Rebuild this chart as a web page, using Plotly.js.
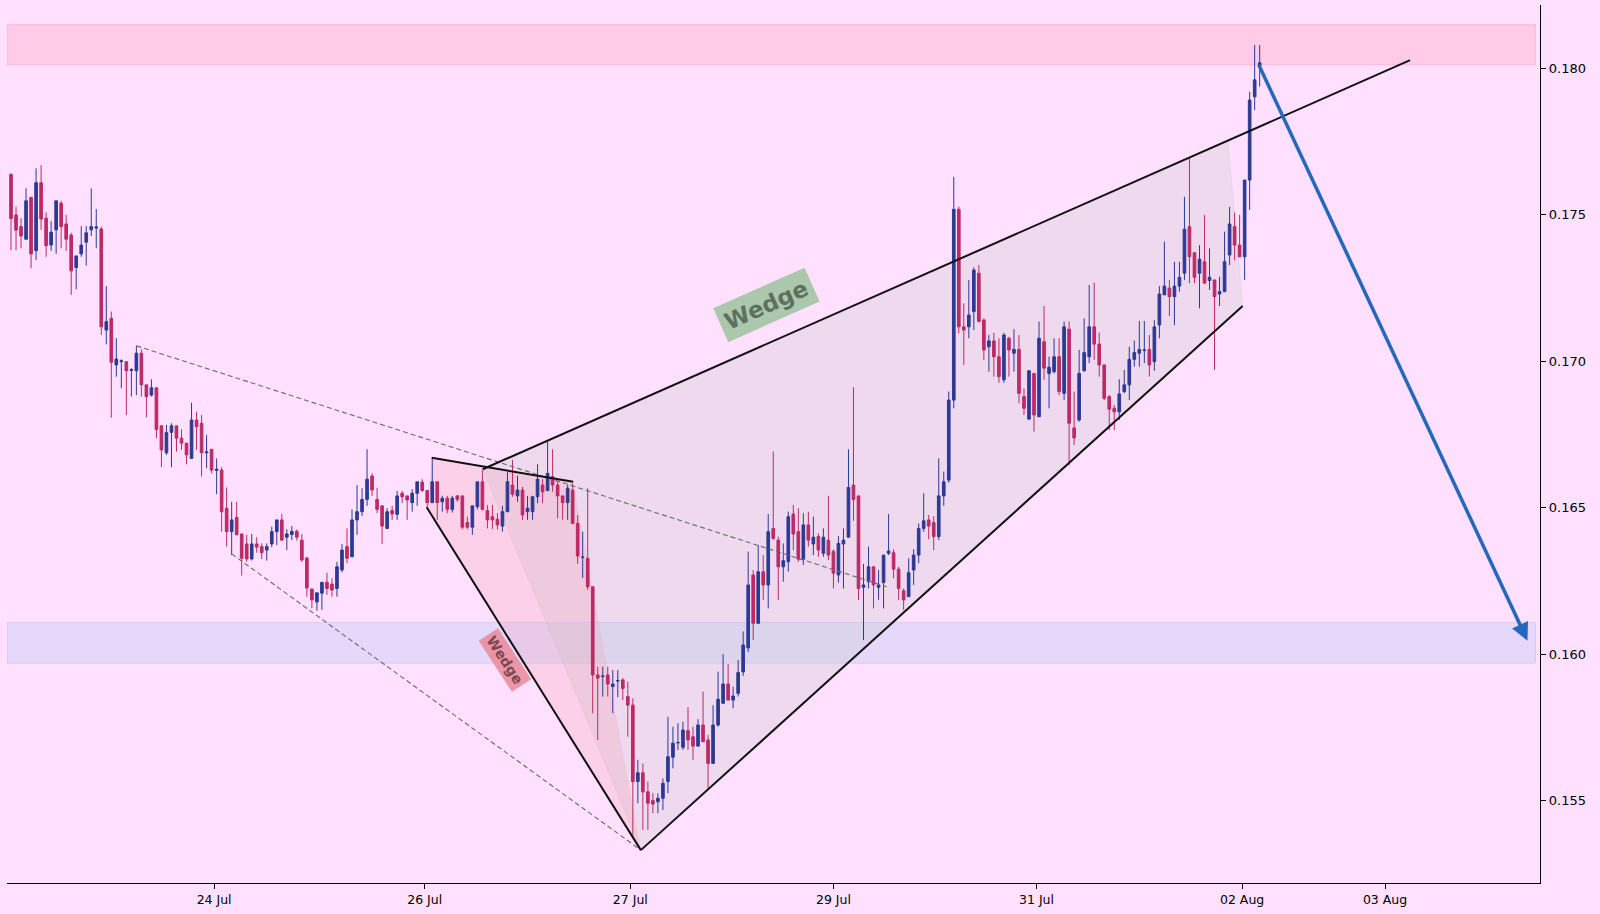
<!DOCTYPE html>
<html><head><meta charset="utf-8">
<script src="https://cdn.plot.ly/plotly-3.0.1.min.js"></script>
<style>html,body{margin:0;padding:0;background:#FFE0FE;}#chart{width:1600px;height:914px;}</style>
</head><body><div id="chart"></div>
<script>
const openP = [
0.17639,0.17500,0.17460,0.17417,0.17560,0.17378,0.17610,0.17489,0.17397,0.17449,
0.17540,0.17469,0.17431,0.17320,0.17367,0.17407,0.17449,0.17455,0.17452,0.17107,
0.17147,0.16988,0.16999,0.16999,0.16969,0.16968,0.17028,0.16920,0.16885,0.16910,
0.16780,0.16688,0.16758,0.16780,0.16738,0.16721,0.16669,0.16800,0.16789,0.16688,
0.16700,0.16628,0.16629,0.16499,0.16419,0.16468,0.16411,0.16377,0.16326,0.16377,
0.16368,0.16356,0.16377,0.16419,0.16459,0.16400,0.16409,0.16420,0.16390,0.16329,
0.16223,0.16179,0.16209,0.16246,0.16240,0.16225,0.16288,0.16368,0.16333,0.16459,
0.16487,0.16529,0.16609,0.16529,0.16507,0.16430,0.16491,0.16478,0.16550,0.16541,
0.16518,0.16550,0.16588,0.16559,0.16518,0.16589,0.16521,0.16533,0.16495,0.16541,
0.16541,0.16450,0.16434,0.16504,0.16589,0.16491,0.16470,0.16461,0.16438,0.16487,
0.16578,0.16541,0.16561,0.16487,0.16487,0.16538,0.16578,0.16559,0.16607,0.16578,
0.16541,0.16518,0.16561,0.16447,0.16331,0.16328,0.16231,0.15930,0.15925,0.15930,
0.15890,0.15909,0.15913,0.15856,0.15827,0.15566,0.15596,0.15531,0.15501,0.15497,
0.15509,0.15566,0.15649,0.15698,0.15683,0.15740,0.15719,0.15687,0.15759,0.15708,
0.15628,0.15759,0.15833,0.15899,0.15844,0.15867,0.15940,0.16022,0.16271,0.16106,
0.16282,0.16237,0.16430,0.16390,0.16299,0.16316,0.16479,0.16419,0.16325,0.16442,
0.16377,0.16402,0.16345,0.16390,0.16351,0.16271,0.16377,0.16400,0.16578,0.16541,
0.16229,0.16248,0.16299,0.16229,0.16245,0.16345,0.16347,0.16291,0.16217,0.16197,
0.16288,0.16339,0.16430,0.16459,0.16450,0.16402,0.16541,0.16595,0.16868,0.17519,
0.17118,0.17118,0.17170,0.17301,0.17141,0.17050,0.17070,0.17016,0.16937,0.17079,
0.17028,0.17041,0.16880,0.16803,0.16959,0.16811,0.17067,0.16959,0.16965,0.17016,
0.16891,0.17110,0.16773,0.16800,0.16968,0.17016,0.17118,0.17059,0.16988,0.16880,
0.16840,0.16828,0.16897,0.16920,0.17007,0.17028,0.17037,0.17041,0.16999,0.17124,
0.17227,0.17250,0.17221,0.17257,0.17301,0.17460,0.17371,0.17301,0.17340,0.17276,
0.17278,0.17230,0.17238,0.17363,0.17460,0.17397,0.17357,0.17619,0.17903,0.18008];
const highP = [
0.17639,0.17528,0.17489,0.17591,0.17560,0.17659,0.17670,0.17509,0.17479,0.17548,
0.17548,0.17500,0.17439,0.17360,0.17462,0.17462,0.17591,0.17520,0.17460,0.17257,
0.17170,0.17079,0.17007,0.16999,0.16977,0.17053,0.17041,0.16920,0.16939,0.16910,
0.16780,0.16783,0.16789,0.16780,0.16768,0.16721,0.16859,0.16828,0.16817,0.16749,
0.16700,0.16669,0.16639,0.16570,0.16521,0.16521,0.16411,0.16408,0.16411,0.16400,
0.16379,0.16379,0.16436,0.16459,0.16479,0.16427,0.16438,0.16427,0.16411,0.16333,
0.16225,0.16211,0.16246,0.16279,0.16260,0.16316,0.16377,0.16430,0.16495,0.16578,
0.16567,0.16700,0.16618,0.16569,0.16507,0.16499,0.16507,0.16558,0.16558,0.16541,
0.16564,0.16589,0.16598,0.16559,0.16671,0.16589,0.16541,0.16541,0.16541,0.16544,
0.16541,0.16470,0.16507,0.16589,0.16629,0.16510,0.16510,0.16482,0.16507,0.16624,
0.16664,0.16609,0.16572,0.16541,0.16541,0.16649,0.16598,0.16726,0.16700,0.16589,
0.16541,0.16578,0.16584,0.16476,0.16419,0.16567,0.16231,0.15958,0.15958,0.15958,
0.15947,0.15947,0.15919,0.15907,0.15850,0.15640,0.15628,0.15566,0.15526,0.15526,
0.15577,0.15787,0.15753,0.15765,0.15770,0.15820,0.15753,0.15779,0.15873,0.15725,
0.15827,0.15941,0.16001,0.15967,0.15890,0.15981,0.16078,0.16351,0.16288,0.16373,
0.16339,0.16479,0.16692,0.16402,0.16379,0.16487,0.16510,0.16499,0.16482,0.16487,
0.16470,0.16413,0.16430,0.16541,0.16359,0.16404,0.16430,0.16700,0.16912,0.16541,
0.16309,0.16368,0.16299,0.16288,0.16339,0.16479,0.16359,0.16299,0.16225,0.16328,
0.16359,0.16447,0.16550,0.16476,0.16472,0.16669,0.16624,0.16897,0.17630,0.17528,
0.17198,0.17278,0.17321,0.17329,0.17147,0.17090,0.17098,0.17079,0.17098,0.17084,
0.17110,0.17090,0.16908,0.16968,0.16959,0.17136,0.17189,0.17016,0.17079,0.17079,
0.17136,0.17136,0.16897,0.17039,0.17147,0.17261,0.17269,0.17098,0.16988,0.16885,
0.16851,0.16939,0.16971,0.17050,0.17071,0.17138,0.17138,0.17090,0.17141,0.17257,
0.17409,0.17278,0.17340,0.17340,0.17562,0.17693,0.17371,0.17397,0.17500,0.17386,
0.17278,0.17289,0.17443,0.17528,0.17508,0.17500,0.17619,0.17921,0.18080,0.18080];
const lowP = [
0.17380,0.17380,0.17386,0.17417,0.17318,0.17346,0.17449,0.17357,0.17377,0.17367,
0.17386,0.17377,0.17227,0.17246,0.17357,0.17327,0.17428,0.17386,0.17090,0.17058,
0.16808,0.16948,0.16908,0.16817,0.16880,0.16885,0.16880,0.16809,0.16880,0.16738,
0.16639,0.16681,0.16639,0.16692,0.16698,0.16649,0.16669,0.16698,0.16607,0.16635,
0.16618,0.16547,0.16419,0.16368,0.16339,0.16408,0.16269,0.16316,0.16320,0.16347,
0.16325,0.16320,0.16366,0.16373,0.16390,0.16356,0.16390,0.16388,0.16316,0.16197,
0.16158,0.16149,0.16152,0.16203,0.16197,0.16197,0.16280,0.16311,0.16333,0.16408,
0.16472,0.16507,0.16541,0.16482,0.16377,0.16427,0.16459,0.16459,0.16516,0.16459,
0.16487,0.16507,0.16555,0.16499,0.16518,0.16459,0.16487,0.16482,0.16484,0.16521,
0.16427,0.16427,0.16408,0.16495,0.16491,0.16430,0.16427,0.16427,0.16419,0.16487,
0.16538,0.16521,0.16459,0.16459,0.16459,0.16516,0.16516,0.16559,0.16555,0.16465,
0.16459,0.16459,0.16447,0.16309,0.16260,0.16220,0.15799,0.15708,0.15856,0.15856,
0.15799,0.15854,0.15844,0.15719,0.15372,0.15492,0.15401,0.15401,0.15458,0.15458,
0.15469,0.15526,0.15611,0.15674,0.15674,0.15674,0.15640,0.15685,0.15702,0.15543,
0.15628,0.15753,0.15833,0.15844,0.15816,0.15856,0.15926,0.16008,0.16049,0.16106,
0.16186,0.16157,0.16390,0.16186,0.16248,0.16282,0.16356,0.16316,0.16305,0.16368,
0.16339,0.16333,0.16333,0.16322,0.16225,0.16245,0.16225,0.16400,0.16456,0.16186,
0.16049,0.16225,0.16157,0.16186,0.16157,0.16339,0.16260,0.16186,0.16152,0.16197,
0.16237,0.16311,0.16419,0.16393,0.16356,0.16390,0.16507,0.16586,0.16840,0.17096,
0.16988,0.17079,0.17107,0.17136,0.17005,0.16965,0.16948,0.16927,0.16927,0.16948,
0.16965,0.16857,0.16817,0.16800,0.16760,0.16811,0.16937,0.16840,0.16959,0.16885,
0.16868,0.16646,0.16715,0.16794,0.16965,0.16994,0.17005,0.16948,0.16868,0.16766,
0.16766,0.16800,0.16891,0.16868,0.16982,0.16982,0.16994,0.16948,0.16968,0.17079,
0.17227,0.17155,0.17124,0.17238,0.17278,0.17267,0.17267,0.17181,0.17267,0.17244,
0.16971,0.17189,0.17238,0.17329,0.17346,0.17357,0.17278,0.17517,0.17858,0.17938];
const closeP = [
0.17488,0.17448,0.17428,0.17548,0.17367,0.17610,0.17486,0.17395,0.17441,0.17548,
0.17460,0.17417,0.17309,0.17360,0.17397,0.17439,0.17460,0.17459,0.17118,0.17136,
0.16997,0.17008,0.17002,0.16968,0.16972,0.17028,0.16920,0.16880,0.16910,0.16768,
0.16698,0.16757,0.16780,0.16738,0.16721,0.16681,0.16800,0.16777,0.16688,0.16691,
0.16629,0.16632,0.16487,0.16419,0.16459,0.16408,0.16328,0.16326,0.16377,0.16366,
0.16347,0.16368,0.16419,0.16459,0.16390,0.16411,0.16420,0.16400,0.16322,0.16227,
0.16186,0.16210,0.16246,0.16225,0.16220,0.16299,0.16356,0.16328,0.16459,0.16487,
0.16529,0.16598,0.16561,0.16495,0.16438,0.16487,0.16479,0.16541,0.16538,0.16527,
0.16550,0.16589,0.16559,0.16518,0.16589,0.16518,0.16533,0.16495,0.16533,0.16529,
0.16434,0.16434,0.16507,0.16589,0.16495,0.16459,0.16459,0.16442,0.16487,0.16589,
0.16547,0.16561,0.16476,0.16499,0.16538,0.16598,0.16555,0.16618,0.16578,0.16541,
0.16518,0.16567,0.16447,0.16336,0.16332,0.16231,0.15930,0.15919,0.15926,0.15899,
0.15899,0.15911,0.15884,0.15827,0.15566,0.15596,0.15531,0.15492,0.15489,0.15509,
0.15560,0.15651,0.15697,0.15699,0.15742,0.15708,0.15687,0.15759,0.15702,0.15628,
0.15759,0.15847,0.15899,0.15844,0.15858,0.15938,0.16032,0.16237,0.16106,0.16282,
0.16237,0.16419,0.16396,0.16299,0.16320,0.16470,0.16411,0.16325,0.16442,0.16390,
0.16400,0.16356,0.16400,0.16339,0.16277,0.16379,0.16390,0.16570,0.16529,0.16225,
0.16237,0.16299,0.16237,0.16237,0.16339,0.16353,0.16291,0.16225,0.16186,0.16279,
0.16339,0.16430,0.16456,0.16438,0.16402,0.16541,0.16589,0.16868,0.17519,0.17118,
0.17107,0.17158,0.17312,0.17136,0.17039,0.17070,0.17016,0.16948,0.17090,0.17039,
0.17041,0.16891,0.16840,0.16968,0.16817,0.17079,0.16977,0.16980,0.17016,0.16897,
0.17118,0.16789,0.16739,0.16959,0.17030,0.17118,0.17059,0.16988,0.16874,0.16837,
0.16828,0.16889,0.16920,0.17007,0.17030,0.17041,0.17039,0.16988,0.17118,0.17230,
0.17257,0.17221,0.17257,0.17287,0.17451,0.17357,0.17287,0.17349,0.17267,0.17287,
0.17221,0.17238,0.17340,0.17469,0.17397,0.17357,0.17619,0.17892,0.17961,0.18019];

const tickIdx = [40.5, 82.5, 123.5, 164, 204.5, 245.5, 274];
const tickLabels = ['24 Jul','26 Jul','27 Jul','29 Jul','31 Jul','02 Aug','03 Aug'];
const yTicks = [0.155, 0.160, 0.165, 0.170, 0.175, 0.180];
const resistanceZone = [0.18012, 0.18150];
const supportZone = [0.15970, 0.16109];
// pattern anchor points: [candle index, price]
const dashUpper = [[25, 0.17053], [174.6, 0.16231]];
const dashLower = [[44, 0.16343], [125.6, 0.15332]];
const smallWedgeTop = [[83.9, 0.16671], [112.1, 0.16589]];
const smallWedgeBottom = [[82.9, 0.16502], [125.6, 0.15332]];
const bigWedgeTop = [[94.05, 0.16632], [279, 0.18028]];
const bigWedgeBottom = [[125.6, 0.15332], [245.6, 0.17189]];
const bigWedgeFill = [[94.05, 0.16632], [242.7, 0.17754], [245.6, 0.17189], [125.6, 0.15332]];
const smallWedgeFill = [[83.9, 0.16671], [112.1, 0.16589], [125.6, 0.15332], [82.9, 0.16502]];
const arrowPts = [[248.7, 0.18017], [302.4, 0.16047]];

const idx = openP.map((_, i) => i);
const BG = '#FFE0FE';
const RED = '#BC2A65';
const BLUE = '#2C3A92';

const trace = {
  type: 'candlestick', x: idx, open: openP, high: highP, low: lowP, close: closeP,
  increasing: {line: {color: BLUE, width: 1}, fillcolor: BLUE},
  decreasing: {line: {color: RED, width: 1}, fillcolor: RED},
  whiskerwidth: 0, hoverinfo: 'skip', showlegend: false
};

function poly(pts) { return 'M' + pts.map(p => p[0] + ',' + p[1]).join('L') + 'Z'; }
function seg(pts, color, width, dash) {
  return {type: 'line', xref: 'x', yref: 'y', x0: pts[0][0], y0: pts[0][1], x1: pts[1][0], y1: pts[1][1],
    line: {color: color, width: width, dash: dash || 'solid'}, layer: 'above'};
}

const shapes = [
  {type: 'rect', xref: 'x', yref: 'y', x0: -0.8, x1: 304.0, y0: resistanceZone[0], y1: resistanceZone[1],
   fillcolor: 'rgba(255,140,165,0.25)', line: {color: 'rgba(255,120,160,0.35)', width: 0.8}, layer: 'below'},
  {type: 'rect', xref: 'x', yref: 'y', x0: -0.8, x1: 304.0, y0: supportZone[0], y1: supportZone[1],
   fillcolor: 'rgba(150,190,240,0.25)', line: {color: 'rgba(150,160,235,0.35)', width: 0.8}, layer: 'below'},
  {type: 'path', xref: 'x', yref: 'y', path: poly(bigWedgeFill), fillcolor: 'rgba(195,200,200,0.28)',
   line: {color: 'rgba(200,200,205,0.35)', width: 1}, layer: 'below'},
  {type: 'path', xref: 'x', yref: 'y', path: poly(smallWedgeFill), fillcolor: 'rgba(245,150,165,0.22)',
   line: {width: 0}, layer: 'below'},
  seg(dashUpper, '#6A6A6A', 1.1, '5px,3px'),
  seg(dashLower, '#6A6A6A', 1.1, '5px,3px'),
  seg(smallWedgeTop, '#111111', 2),
  seg(smallWedgeBottom, '#111111', 2),
  seg(bigWedgeTop, '#111111', 2),
  seg(bigWedgeBottom, '#111111', 2)
];

const annotations = [
  {x: arrowPts[1][0], y: arrowPts[1][1], ax: arrowPts[0][0], ay: arrowPts[0][1], axref: 'x', ayref: 'y',
   xref: 'x', yref: 'y', text: '', showarrow: true, arrowhead: 2, arrowsize: 1, arrowwidth: 3.5,
   arrowcolor: '#2468BE', standoff: 0, startstandoff: 0},
  {x: 150.6, y: 0.17192, xref: 'x', yref: 'y', text: '<b>Wedge</b>', showarrow: false, textangle: -24,
   font: {family: 'DejaVu Sans', size: 23, color: '#5E715E'}, bgcolor: 'rgba(160,196,160,0.88)', borderpad: 5},
  {x: 98.5, y: 0.15981, xref: 'x', yref: 'y', text: '<b>Wedge</b>', showarrow: false, textangle: 57,
   font: {family: 'DejaVu Sans', size: 14, color: '#7D4652'}, bgcolor: 'rgba(232,140,155,0.88)', borderpad: 3}
];

const layout = {
  width: 1600, height: 914,
  margin: {l: 7, r: 60, t: 5, b: 31},
  paper_bgcolor: BG, plot_bgcolor: BG,
  font: {family: 'DejaVu Sans', color: '#000'},
  showlegend: false, boxgap: 0.25,
  xaxis: {range: [-0.8, 304.9], tickvals: tickIdx, ticktext: tickLabels, ticks: 'outside', ticklen: 5,
    tickcolor: '#000', showline: true, linecolor: '#000', linewidth: 1.2, showgrid: false, zeroline: false,
    rangeslider: {visible: false}, tickfont: {size: 12.5, color: '#000'}, fixedrange: true},
  yaxis: {side: 'right', range: [0.152198, 0.182164], tickvals: yTicks, tickformat: '.3f', ticks: 'outside',
    ticklen: 5, tickcolor: '#000', showline: true, linecolor: '#000', linewidth: 1.2, showgrid: false,
    zeroline: false, tickfont: {size: 13, color: '#000'}, fixedrange: true},
  shapes: shapes, annotations: annotations
};

Plotly.newPlot('chart', [trace], layout, {staticPlot: true, displayModeBar: false});
</script></body></html>
